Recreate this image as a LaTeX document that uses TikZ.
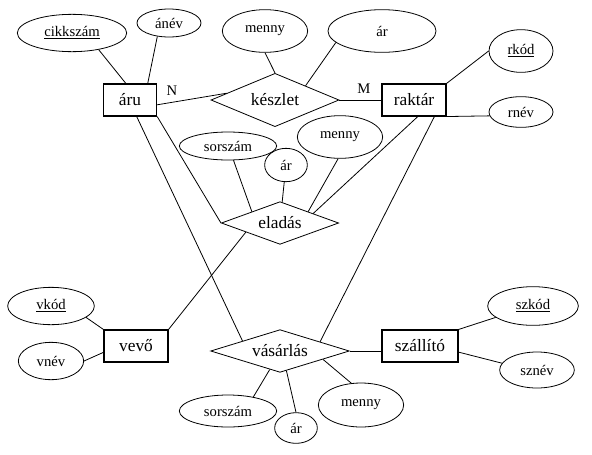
\documentclass[tikz,border=0pt]{standalone}
\usepackage{fontspec}
\setmainfont{Liberation Serif}
\usetikzlibrary{shapes.geometric}

\begin{document}
\begin{tikzpicture}[
        x=0.75pt, y=-0.75pt,
        egyed/.style={draw, line width=0.8pt, inner sep=0pt, minimum height=24pt,
            font=\fontsize{13}{15}\selectfont},
        kapcs/.style={draw, diamond, aspect=3, inner sep=0pt, line width=0.6pt,
            font=\fontsize{13}{15}\selectfont},
        tul/.style 2 args={draw, ellipse, inner sep=0pt, line width=0.6pt,
            minimum width=#1, minimum height=#2, font=\fontsize{11}{13}\selectfont},
        lbl/.style={font=\fontsize{11}{13}\selectfont},
        vonal/.style={line width=0.6pt}
    ]
        \useasboundingbox (0,0) rectangle (592,454);
        % egyedek es kapcsolatok
        \node[egyed, minimum width=40pt] (aru) at (130,100) {áru};
        \node[egyed, minimum width=48pt] (raktar) at (414,100) {raktár};
        \node[egyed, minimum width=48pt] (vevo) at (136,346) {vevő};
        \node[egyed, minimum width=57pt] (szallito) at (420,346) {szállító};
        \node[kapcs, minimum width=96pt, minimum height=40pt] (keszlet) at (275,100) {készlet};
        \node[kapcs, minimum width=88pt, minimum height=32pt] (eladas) at (280,223) {eladás};
        \node[kapcs, minimum width=104pt, minimum height=32pt] (vasarlas) at (280,351) {vásárlás};
        % tulajdonsagok
        \node[tul={82pt}{28pt}] (cikkszam) at (72,33) {\underline{cikkszám}};
        \node[tul={48pt}{21pt}] (anev) at (169,23) {ánév};
        \node[tul={64pt}{32pt}] (kmenny) at (265,31) {menny};
        \node[tul={81pt}{32pt}] (kar) at (382,31) {ár};
        \node[tul={48pt}{32pt}] (rkod) at (521,51) {\underline{rkód}};
        \node[tul={48pt}{23pt}] (rnev) at (521,112) {rnév};
        \node[tul={73pt}{21pt}] (esorszam) at (228,146) {sorszám};
        \node[tul={32pt}{25pt}] (ear) at (286,165) {ár};
        \node[tul={64pt}{32pt}] (emenny) at (340,137) {menny};
        \node[tul={65pt}{28pt}] (vkod) at (51,306) {\underline{vkód}};
        \node[tul={49pt}{28pt}] (vnev) at (51,361) {vnév};
        \node[tul={73pt}{24pt}] (vsorszam) at (228,411) {sorszám};
        \node[tul={32pt}{23pt}] (var) at (296,428) {ár};
        \node[tul={64pt}{33pt}] (vmenny) at (361,405) {menny};
        \node[tul={68pt}{29pt}] (szkod) at (533,306) {\underline{szkód}};
        \node[tul={56pt}{27pt}] (sznev) at (537,370) {sznév};
        \node[lbl] (n) at (172,91) {N};
        \node[lbl] (m) at (364,89) {M};
        % vonalak
        \draw[vonal] (cikkszam.328) -- (aru.104);
        \draw[vonal] (anev.229) -- (aru.43);
        \draw[vonal] (aru.350) -- (keszlet.172);
        \draw[vonal] (keszlet.east) -- (raktar.west);
        \draw[vonal] (kmenny.south) -- (keszlet.north);
        \draw[vonal] (kar.194) -- (keszlet.25);
        \draw[vonal] (raktar.north east) -- (rkod.west);
        \draw[vonal] (raktar.south east) -- (rnev.187);
        \draw[vonal] (aru.south east) -- (eladas.west);
        \draw[vonal] (aru.292) -- (vasarlas.165);
        \draw[vonal] (raktar.283) -- (eladas.16);
        \draw[vonal] (raktar.321) -- (vasarlas.13);
        \draw[vonal] (esorszam.291) -- (eladas.158);
        \draw[vonal] (ear) -- (eladas);
        \draw[vonal] (emenny.265) -- (eladas.22);
        \draw[vonal] (eladas.195) -- (vevo.north east);
        \draw[vonal] (vkod.342) -- (vevo.north west);
        \draw[vonal] (vnev.east) -- (vevo.191);
        \draw[vonal] (vasarlas.east) -- (vasarlas.east -| szallito.west);
        \draw[vonal] (szallito.north east) -- (szkod.197);
        \draw[vonal] (szallito.351) -- (sznev.169);
        \draw[vonal] (vasarlas.241) -- (vsorszam.29);
        \draw[vonal] (vasarlas.288) -- (var.north);
        \draw[vonal] (vasarlas.349) -- (vmenny.114);
    \end{tikzpicture}
\end{document}
